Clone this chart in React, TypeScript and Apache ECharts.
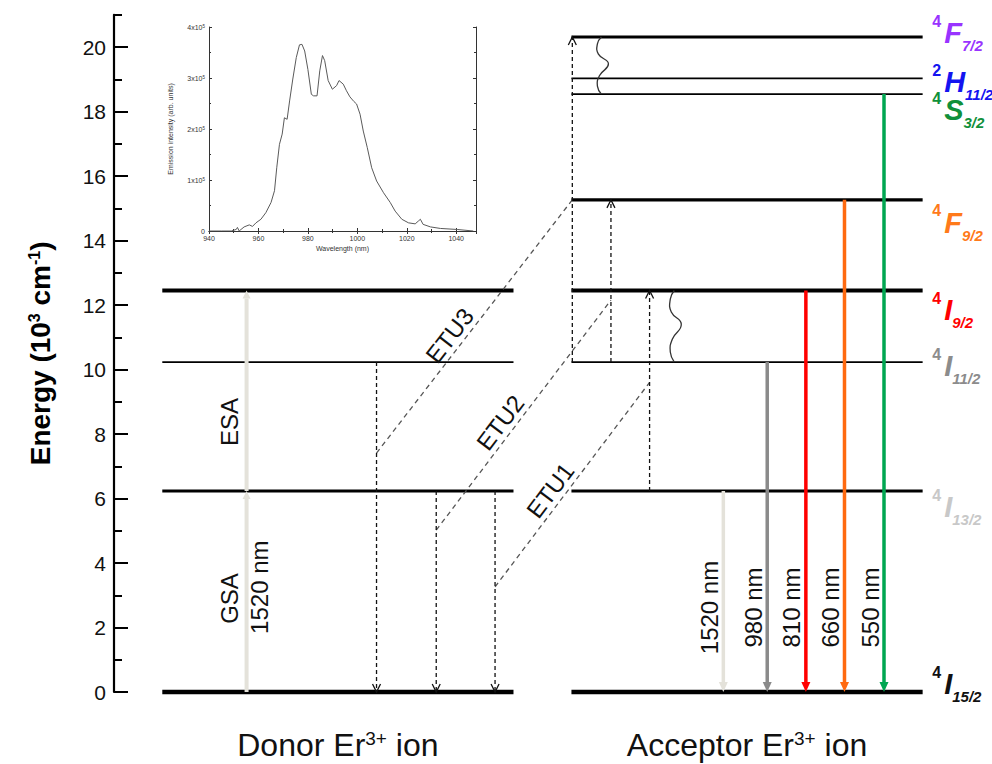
import React, { useEffect, useRef } from "react";
import * as echarts from "echarts";

const FONT = "'Liberation Sans', Arial, Helvetica, sans-serif";

// Er3+ manifolds and their energies (10^3 cm^-1)
const levelTerms = ["4I15/2", "4I13/2", "4I11/2", "4I9/2", "4F9/2", "4S3/2", "2H11/2", "4F7/2"];
const levelEnergy = [0, 6.23, 10.23, 12.45, 15.26, 18.54, 19.03, 20.31];
const donorLevels = [0, 1, 2, 3];
const acceptorLevels = [0, 1, 2, 3, 4, 5, 6, 7];

// energy axis ticks
const energyMajorTicks = [0, 2, 4, 6, 8, 10, 12, 14, 16, 18, 20];
const energyMinorTicks = [1, 3, 5, 7, 9, 11, 13, 15, 17, 19, 21];

// donor pumping at 1520 nm: ground and excited state absorption (level indices)
const absorptionLabels = ["GSA", "ESA"];
const absorptionLower = [0, 1];
const absorptionUpper = [1, 3];

// donor relaxation giving its energy away (upper level index, down to ground)
const donorRelaxFrom = [2, 1, 1];

// energy transfer upconversion steps
const etuNames = ["ETU3", "ETU2", "ETU1"];
const etuDonorEnergy = [7.41, 5.02, 3.26];
const etuAcceptorEnergy = [15.26, 12.15, 9.6];
const acceptorStepFrom = [2, 2, 1];
const acceptorStepTo = [7, 4, 3];

// non-radiative decays on the acceptor
const decayFrom = [7, 3];
const decayTo = [5, 2];

// acceptor emissions to the ground manifold
const emissionLabels = ["1520 nm", "980 nm", "810 nm", "660 nm", "550 nm"];
const emissionUpper = [1, 2, 3, 4, 5];

const ionLabels = ["Donor Er{s|3+} ion", "Acceptor Er{s|3+} ion"];

// inset: 980 nm band emission spectrum
const wavelength = [
  940, 945, 949, 951, 951.5, 952.2, 954.2, 956.3, 957.6, 959, 961, 963, 965.1, 966.5, 967.4,
  968.5, 969.6, 970.5, 971.6, 972.6, 973.9, 975.3, 976.6, 977.6, 978.7, 980, 981.4, 982.3,
  983.7, 984.8, 985.9, 986.8, 988.2, 989.9, 991.6, 992.6, 994.3, 995.6, 997, 998.6, 999.7,
  1001.1, 1002.4, 1004, 1005.8, 1007.8, 1010.6, 1013.3, 1015.3, 1018, 1020.7, 1023.4, 1024.8,
  1025.5, 1026.6, 1029.6, 1033.6, 1040.4, 1046.9,
];
const intensity = [
  0, 0, 0, 0.03, 0.07, 0, 0.08, 0.12, 0.09, 0.16, 0.23, 0.36, 0.56, 0.79, 1.24,
  1.7, 1.9, 2.22, 2.19, 2.55, 2.98, 3.4, 3.65, 3.66, 3.53, 3.17, 2.68, 2.65,
  2.65, 3.14, 3.44, 3.34, 2.95, 2.78, 2.85, 2.95, 2.88, 2.75, 2.63, 2.54, 2.49,
  2.29, 1.96, 1.64, 1.24, 0.98, 0.75, 0.56, 0.39, 0.23, 0.16, 0.14, 0.2,
  0.23, 0.13, 0.08, 0.05, 0.03, 0,
];

// ---- layout (horizontal diagram units 0..100) and styles ----
const DONOR_X = [5.5, 45.5];
const ACCEPTOR_X = [52.1, 92.1];
const ABSORB_X = 15.1;
const DONOR_RELAX_X = [29.9, 36.7, 43.4];
const ACCEPTOR_STEP_X = [52.2, 56.6, 61.0];
const DECAY_X = [55.4, 63.7];
const EMISSION_X = [69.4, 74.4, 78.8, 83.2, 87.7];
const TERM_X = 93.2;

const LEVEL_WIDTH = [4.5, 3, 1.8, 4, 3.2, 1.8, 1.8, 3.2];
const TERM_COLOR = ["#111111", "#c8c8c8", "#8c8c8c", "#ff0000", "#ff7a1a", "#10903a", "#1414f0", "#9933ff"];
const TERM_DY = [-8, 16, 4, 20, 23, 16, 4, -4];
const PUMP_COLOR = "#e4e2da";
const EMISSION_COLOR = [PUMP_COLOR, "#8a8a8a", "#ff0000", "#ff6a10", "#00a651"];

type Pt = number[];

function solidArrow(p0: Pt, p1: Pt, color: string, width: number, headW: number, headL: number) {
  const dir = Math.sign(p1[1] - p0[1]);
  const baseY = p1[1] - dir * headL;
  return [
    { type: "line", shape: { x1: p0[0], y1: p0[1], x2: p1[0], y2: baseY }, style: { stroke: color, lineWidth: width } },
    {
      type: "polygon",
      shape: { points: [[p1[0], p1[1]], [p1[0] - headW / 2, baseY], [p1[0] + headW / 2, baseY]] },
      style: { fill: color },
    },
  ];
}

function dashedArrow(p0: Pt, p1: Pt) {
  const dir = Math.sign(p1[1] - p0[1]);
  return [
    {
      type: "line",
      shape: { x1: p0[0], y1: p0[1], x2: p1[0], y2: p1[1] },
      style: { stroke: "#111", lineWidth: 1.3, lineDash: [4, 3] },
    },
    {
      type: "polyline",
      shape: { points: [[p1[0] - 4, p1[1] - dir * 8], [p1[0], p1[1]], [p1[0] + 4, p1[1] - dir * 8]] },
      style: { stroke: "#111", lineWidth: 1.3, fill: null },
    },
  ];
}

const WAVE = [[0, 1], [0.12, -3], [0.3, -2], [0.47, 8], [0.68, -1], [0.86, -3], [1, 1]];

function termRich(color: string) {
  return {
    a: { fontSize: 16, fontWeight: "bold", fontFamily: FONT, fill: color, verticalAlign: "top" },
    b: {
      fontSize: 29, fontWeight: "bold", fontStyle: "italic", fontFamily: FONT, fill: color,
      lineHeight: 40, padding: [0, 0, 0, 3],
    },
    c: { fontSize: 15, fontWeight: "bold", fontStyle: "italic", fontFamily: FONT, fill: color, verticalAlign: "bottom" },
  };
}

function buildOption(): any {
  const levelSegments = [
    ...donorLevels.map((i) => [DONOR_X[0], DONOR_X[1], levelEnergy[i], i]),
    ...acceptorLevels.map((i) => [ACCEPTOR_X[0], ACCEPTOR_X[1], levelEnergy[i], i]),
  ];
  const solidArrows = [
    ...absorptionLower.map((lo, k) => [ABSORB_X, levelEnergy[lo], levelEnergy[absorptionUpper[k]], 0, 1]),
    ...emissionUpper.map((up, k) => [EMISSION_X[k], levelEnergy[up], levelEnergy[0], k, 0]),
  ];
  const dashedArrows = [
    ...donorRelaxFrom.map((up, k) => [DONOR_RELAX_X[k], levelEnergy[up], levelEnergy[0]]),
    ...acceptorStepFrom.map((lo, k) => [ACCEPTOR_STEP_X[k], levelEnergy[lo], levelEnergy[acceptorStepTo[k]]]),
  ];
  const etuLines = etuNames.map((_, k) => [DONOR_RELAX_X[k], etuDonorEnergy[k], ACCEPTOR_STEP_X[k], etuAcceptorEnergy[k], k]);
  const decays = decayFrom.map((up, k) => [DECAY_X[k], levelEnergy[up], levelEnergy[decayTo[k]]]);
  const terms = acceptorLevels.map((i) => [TERM_X, levelEnergy[i], i]);

  // rotated transition texts placed beside their arrows
  const transitionTexts = [
    { x: ABSORB_X, e: 2.9, dx: -17, text: absorptionLabels[0] },
    { x: ABSORB_X, e: 8.37, dx: -17, text: absorptionLabels[1] },
    { x: ABSORB_X, e: 3.25, dx: 13, text: emissionLabels[0] },
    ...emissionLabels.map((t, k) => ({ x: EMISSION_X[k], e: 2.62, dx: -14, text: t })),
  ];
  const ionCenters = [(DONOR_X[0] + DONOR_X[1]) / 2, (ACCEPTOR_X[0] + ACCEPTOR_X[1]) / 2];

  const base = { type: "custom", xAxisIndex: 0, yAxisIndex: 0, clip: false, silent: true };

  const insetAxisLine = { show: true, lineStyle: { color: "#333", width: 1 } };
  const insetTick = { show: true, inside: true, length: 3, lineStyle: { color: "#333", width: 1 } };
  const insetMinor = { show: true, splitNumber: 2, length: 2, lineStyle: { color: "#333", width: 1 } };

  return {
    animation: false,
    backgroundColor: "#ffffff",
    grid: [
      { left: 114, right: 0, top: 14.75, bottom: 72, containLabel: false },
      { left: 209, top: 27, width: 267, height: 204, containLabel: false },
    ],
    xAxis: [
      { gridIndex: 0, type: "value", min: 0, max: 100, show: false },
      {
        gridIndex: 1, type: "value", min: 940, max: 1048, interval: 20, position: "bottom",
        axisLine: insetAxisLine, axisTick: insetTick, minorTick: insetMinor, splitLine: { show: false },
        axisLabel: {
          fontSize: 7, color: "#333", margin: 4, fontFamily: FONT, showMaxLabel: false,
          formatter: (v: number) => String(v),
        },
        name: "Wavelength (nm)", nameLocation: "middle", nameGap: 14,
        nameTextStyle: { fontSize: 7, color: "#333", fontFamily: FONT },
      },
      {
        gridIndex: 1, type: "value", min: 940, max: 1048, interval: 20, position: "top",
        axisLine: insetAxisLine, axisTick: insetTick, minorTick: insetMinor, splitLine: { show: false },
        axisLabel: { show: false },
      },
    ],
    yAxis: [
      {
        gridIndex: 0, type: "value", min: 0, max: 21, position: "left",
        axisLine: { show: true, lineStyle: { color: "#000", width: 2.2 } },
        axisTick: { show: true, inside: true, length: 14, lineStyle: { color: "#000", width: 2 }, customValues: energyMajorTicks },
        axisLabel: { customValues: energyMajorTicks, fontSize: 21, color: "#111", margin: 8, fontFamily: FONT },
        splitLine: { show: false },
        name: "Energy (10{s|3} cm{s|-1})", nameLocation: "middle", nameRotate: 90, nameGap: 60,
        nameTextStyle: {
          fontSize: 28, fontWeight: "bold", color: "#000", fontFamily: FONT,
          rich: { s: { fontSize: 16, fontWeight: "bold", color: "#000", fontFamily: FONT, verticalAlign: "top" } },
        },
      },
      {
        gridIndex: 0, type: "value", min: 0, max: 21, position: "left",
        axisLine: { show: false }, axisLabel: { show: false }, splitLine: { show: false },
        axisTick: { show: true, inside: true, length: 8, lineStyle: { color: "#000", width: 2 }, customValues: energyMinorTicks },
      },
      {
        gridIndex: 1, type: "value", min: 0, max: 4, interval: 1, position: "left",
        axisLine: insetAxisLine, axisTick: insetTick, minorTick: insetMinor, splitLine: { show: false },
        axisLabel: {
          fontSize: 7, color: "#333", margin: 4, fontFamily: FONT,
          formatter: (v: number) => (v === 0 ? "0" : `${v}x10{s|5}`),
          rich: { s: { fontSize: 4.5, color: "#333", verticalAlign: "top", fontFamily: FONT } },
        },
        name: "Emission intensity (arb. units)", nameLocation: "middle", nameRotate: 90, nameGap: 35,
        nameTextStyle: { fontSize: 7, color: "#333", fontFamily: FONT },
      },
      {
        gridIndex: 1, type: "value", min: 0, max: 4, interval: 1, position: "right",
        axisLine: insetAxisLine, axisTick: insetTick, minorTick: insetMinor, splitLine: { show: false },
        axisLabel: { show: false },
      },
    ],
    series: [
      // energy levels
      {
        ...base, z: 2, data: levelSegments,
        renderItem: (_p: any, api: any) => {
          const a = api.coord([api.value(0), api.value(2)]);
          const b = api.coord([api.value(1), api.value(2)]);
          return {
            type: "line",
            shape: { x1: a[0], y1: a[1], x2: b[0], y2: b[1] },
            style: { stroke: "#000", lineWidth: LEVEL_WIDTH[api.value(3)] },
          };
        },
      },
      // ETU dashed connectors with their names
      {
        ...base, z: 3, data: etuLines,
        renderItem: (_p: any, api: any) => {
          const a = api.coord([api.value(0), api.value(1)]);
          const b = api.coord([api.value(2), api.value(3)]);
          const dx = b[0] - a[0];
          const dy = b[1] - a[1];
          const len = Math.hypot(dx, dy);
          const ux = dx / len;
          const uy = dy / len;
          const t = 0.43;
          const off = 14;
          const cx = a[0] + dx * t + uy * off;
          const cy = a[1] + dy * t - ux * off;
          return {
            type: "group",
            children: [
              {
                type: "line",
                shape: { x1: a[0], y1: a[1], x2: b[0], y2: b[1] },
                style: { stroke: "#555", lineWidth: 1.3, lineDash: [5, 4] },
              },
              {
                type: "text", x: cx, y: cy, rotation: Math.atan2(-dy, dx),
                style: {
                  text: etuNames[api.value(4)], fill: "#111", fontSize: 24, fontFamily: FONT,
                  align: "center", verticalAlign: "middle",
                },
              },
            ],
          };
        },
      },
      // dashed arrows (donor relaxation, acceptor excitation)
      {
        ...base, z: 4, data: dashedArrows,
        renderItem: (_p: any, api: any) => {
          const a = api.coord([api.value(0), api.value(1)]);
          const b = api.coord([api.value(0), api.value(2)]);
          return { type: "group", children: dashedArrow(a, b) };
        },
      },
      // non-radiative decays
      {
        ...base, z: 4, data: decays,
        renderItem: (_p: any, api: any) => {
          const a = api.coord([api.value(0), api.value(1)]);
          const b = api.coord([api.value(0), api.value(2)]);
          const points = WAVE.map(([t, d]) => [a[0] + d, a[1] + (b[1] - a[1]) * t]);
          return {
            type: "polyline",
            shape: { points, smooth: 0.5 },
            style: { stroke: "#333", lineWidth: 1.3, fill: null },
          };
        },
      },
      // pump and emission arrows
      {
        ...base, z: 5, data: solidArrows,
        renderItem: (_p: any, api: any) => {
          const a = api.coord([api.value(0), api.value(1)]);
          const b = api.coord([api.value(0), api.value(2)]);
          const pump = api.value(4) === 1;
          const color = pump ? PUMP_COLOR : EMISSION_COLOR[api.value(3)];
          return {
            type: "group",
            children: pump ? solidArrow(a, b, color, 4, 8, 8) : solidArrow(a, b, color, 3.5, 9, 10),
          };
        },
      },
      // term symbols of the acceptor levels
      {
        ...base, z: 6, data: terms,
        renderItem: (_p: any, api: any) => {
          const i = api.value(2);
          const p = api.coord([api.value(0), api.value(1)]);
          const term = levelTerms[i];
          const text = `{a|${term[0]}}{b|${term[1]}}{c|${term.slice(2)}}`;
          return {
            type: "text", x: p[0], y: p[1] + TERM_DY[i],
            style: { text, align: "left", verticalAlign: "middle", rich: termRich(TERM_COLOR[i]) },
          };
        },
      },
      // rotated transition texts
      {
        ...base, z: 6, data: transitionTexts.map((d, k) => [d.x, d.e, k]),
        renderItem: (_p: any, api: any) => {
          const d = transitionTexts[api.value(2)];
          const p = api.coord([api.value(0), api.value(1)]);
          return {
            type: "text", x: p[0] + d.dx, y: p[1], rotation: Math.PI / 2,
            style: { text: d.text, fill: "#111", fontSize: 24, fontFamily: FONT, align: "center", verticalAlign: "middle" },
          };
        },
      },
      // ion captions under the ground levels
      {
        ...base, z: 6, data: ionCenters.map((x, k) => [x, levelEnergy[0], k]),
        renderItem: (_p: any, api: any) => {
          const p = api.coord([api.value(0), api.value(1)]);
          return {
            type: "text", x: p[0], y: p[1] + 53,
            style: {
              text: ionLabels[api.value(2)], fill: "#111", fontSize: 32, fontFamily: FONT,
              align: "center", verticalAlign: "middle",
              rich: { s: { fontSize: 19, fill: "#111", fontFamily: FONT, verticalAlign: "top" } },
            },
          };
        },
      },
      // inset spectrum
      {
        type: "line", xAxisIndex: 1, yAxisIndex: 2, silent: true, showSymbol: false, symbol: "none",
        data: wavelength.map((w, k) => [w, intensity[k]]),
        lineStyle: { color: "#5a5a5a", width: 1 },
        z: 3,
      },
    ],
  };
}

export default function App() {
  const ref = useRef<HTMLDivElement>(null);
  useEffect(() => {
    if (!ref.current) return;
    const chart = echarts.init(ref.current, null, { renderer: "svg" });
    chart.setOption(buildOption());
    return () => chart.dispose();
  }, []);
  return (
    <div
      ref={ref}
      style={{ position: "fixed", left: 0, top: 0, width: 992, height: 764, background: "#ffffff" }}
    />
  );
}
